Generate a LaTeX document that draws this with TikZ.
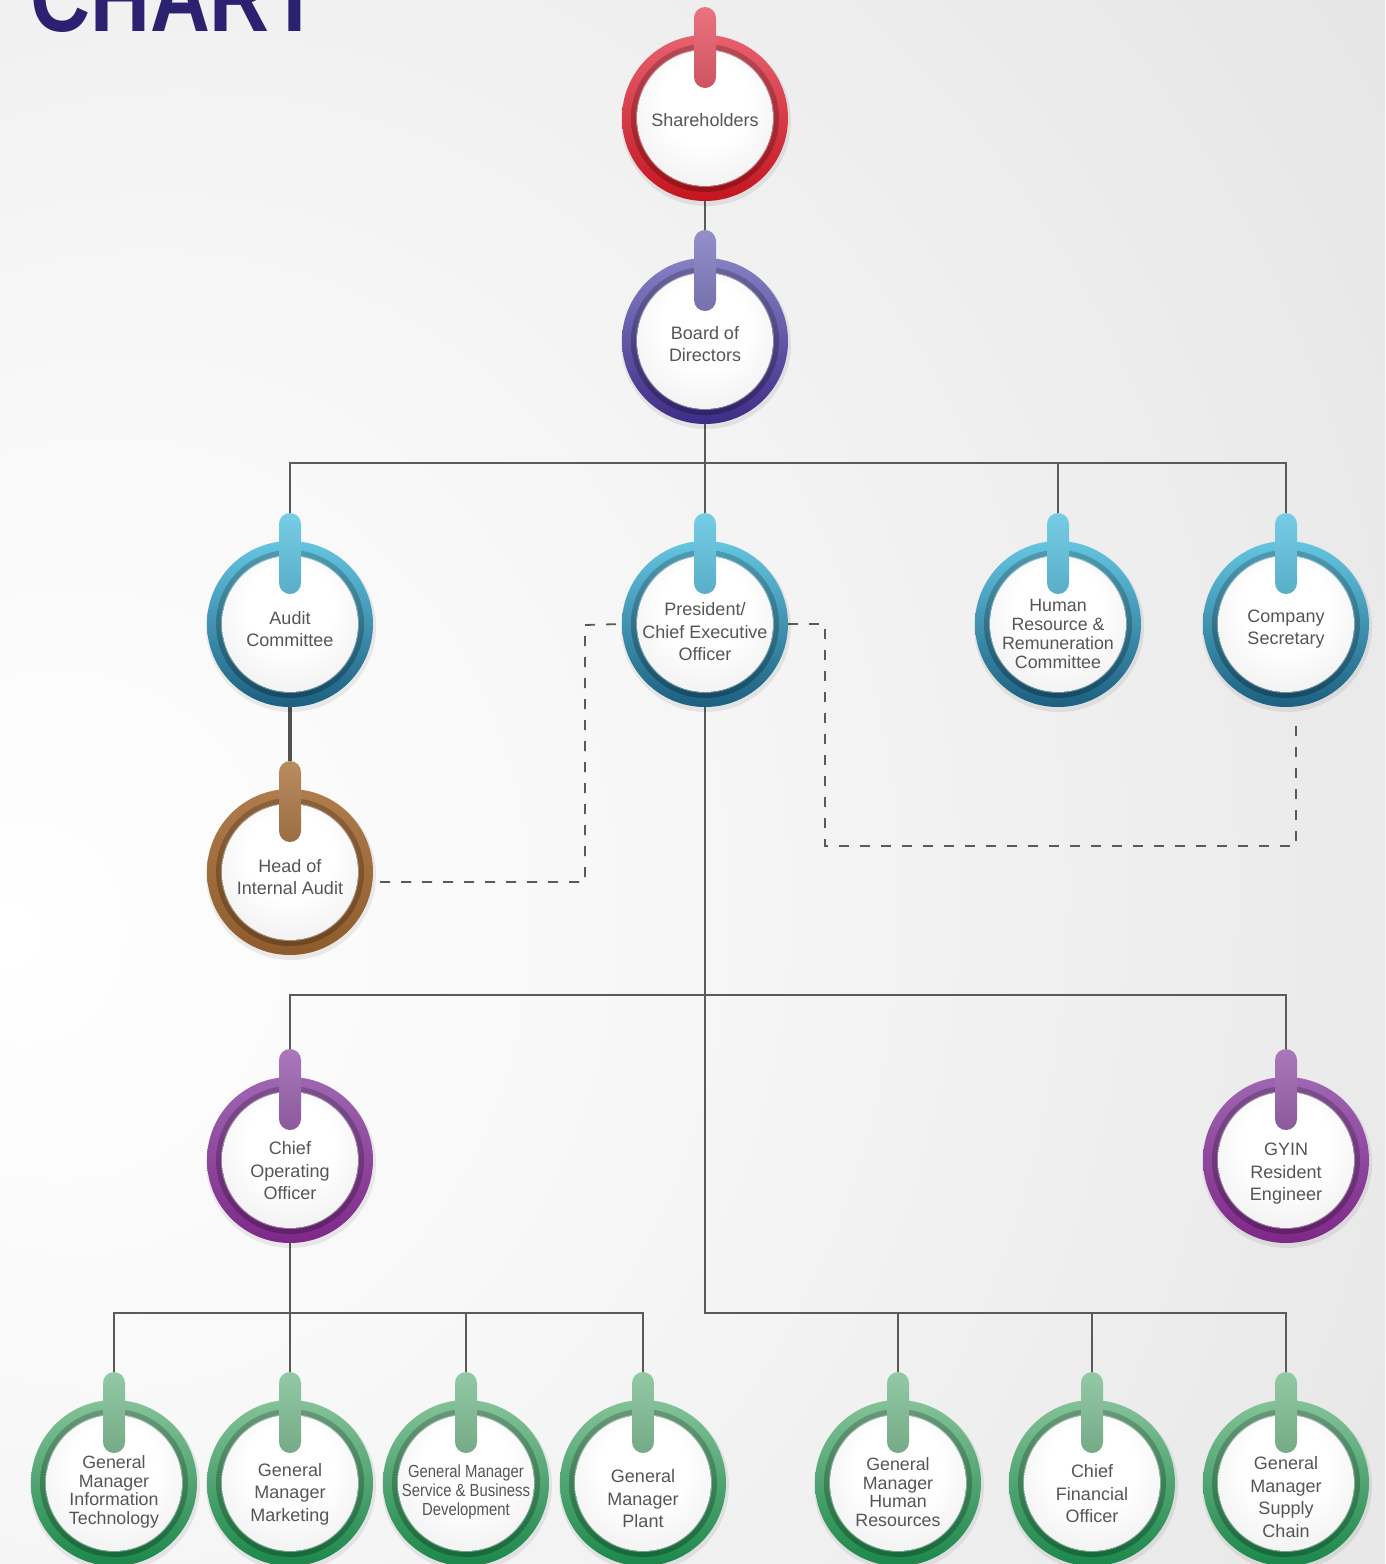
\documentclass[tikz,border=0pt]{standalone}
\usepackage{fontspec}
\setmainfont{Liberation Sans}
\usetikzlibrary{calc}
\pgfdeclarelayer{bg}
\pgfsetlayers{bg,main}
\definecolor{txtgray}{HTML}{555555}
\definecolor{linegray}{HTML}{5A5A5A}
\definecolor{titleblue}{HTML}{2B2170}
\definecolor{redT}{HTML}{E8606E}\definecolor{redB}{HTML}{C4151F}
\definecolor{indT}{HTML}{8580C4}\definecolor{indB}{HTML}{3E2C86}
\definecolor{tealT}{HTML}{64C6E2}\definecolor{tealB}{HTML}{1D5F80}
\definecolor{brnT}{HTML}{B07C4C}\definecolor{brnB}{HTML}{8E5C2C}
\definecolor{purT}{HTML}{9E66B2}\definecolor{purB}{HTML}{7E2888}
\definecolor{grnT}{HTML}{84C298}\definecolor{grnB}{HTML}{1B874A}
\pgfdeclareradialshading{whiteball}{\pgfpoint{0bp}{8bp}}{color(0bp)=(white); color(16bp)=(white); color(38bp)=(black!8); color(50bp)=(black!22); color(60bp)=(black!26)}
\pgfdeclareradialshading{bgshade}{\pgfpoint{-25bp}{-5bp}}{color(0bp)=(white); color(18bp)=(black!3); color(55bp)=(black!12); color(96bp)=(black!19)}
\tikzset{
  txt/.style={text=txtgray, align=center, inner sep=0pt, font=\fontsize{18}{22.5}\selectfont},
  tight/.style={font=\fontsize{17.8}{18.7}\selectfont},
  conn/.style={draw=linegray, line width=1.6pt},
  dsh/.style={draw=linegray, line width=1.8pt, dash pattern=on 10pt off 11pt},
}
% #1 name #2 x #3 y #4 ring top colour #5 ring bottom colour #6 text dy #7 text style #8 text
\newcommand\orgunit[8]{%
  \fill[black,opacity=0.07] (#2+1,#3+3) circle (85);
  \shade[top color=#4, bottom color=#5] (#2,#3) circle (83);
  \shade[top color=#4!78!black, bottom color=#5!78!black] (#2,#3) circle (74);
  \draw[white, opacity=0.35, line width=0.8pt] (#2,#3) circle (68.6);
  \shade[shading=whiteball] (#2,#3) circle (68);
  \node[circle, minimum size=166pt, inner sep=0pt] (#1) at (#2,#3) {};
  \shade[top color=#4!88!white, bottom color=#4!88!black, rounded corners=11pt]
    (#2-11,#3-111) rectangle (#2+11,#3-30);
  \coordinate (#1-tab) at (#2,#3-111);
  \node[txt,#7] (#1-t) at (#2,#3+#6) {#8};
}
\begin{document}
\begin{tikzpicture}[x=1pt,y=-1pt]
\useasboundingbox (0,0) rectangle (1385,1564);
\clip (0,0) rectangle (1385,1564);
\begin{pgfonlayer}{bg}
  \shade[shading=bgshade] (0,0) rectangle (1385,1564);
\end{pgfonlayer}
\node[anchor=base west, inner sep=0pt, text=titleblue, xscale=0.83, transform shape,
      font=\fontsize{100}{100}\selectfont\bfseries] (title) at (30,31) {CHART};

\orgunit{sh}{705}{118}{redT}{redB}{2}{}{Shareholders}
\orgunit{bd}{705}{341}{indT}{indB}{3}{}{Board of\\Directors}
\orgunit{ac}{290}{624}{tealT}{tealB}{5}{}{Audit\\Committee}
\orgunit{ceo}{705}{624}{tealT}{tealB}{8}{}{President/\\Chief Executive\\Officer}
\orgunit{hr}{1058}{624}{tealT}{tealB}{10}{tight}{Human\\Resource \&\\Remuneration\\Committee}
\orgunit{cs}{1286}{624}{tealT}{tealB}{5}{}{Company\\Secretary}
\orgunit{hia}{290}{872}{brnT}{brnB}{5}{}{Head of\\Internal Audit}
\orgunit{coo}{290}{1160}{purT}{purB}{11}{}{Chief\\Operating\\Officer}
\orgunit{gy}{1286}{1160}{purT}{purB}{14}{}{GYIN\\Resident\\Engineer}
\orgunit{it}{114}{1483}{grnT}{grnB}{9}{tight}{General\\Manager\\Information\\Technology}
\orgunit{mk}{290}{1483}{grnT}{grnB}{11}{}{General\\Manager\\Marketing}
\orgunit{sv}{466}{1483}{grnT}{grnB}{9}{font=\fontsize{17.5}{18.6}\selectfont, xscale=0.85, transform shape}{General Manager\\Service \& Business\\Development}
\orgunit{pl}{643}{1483}{grnT}{grnB}{16}{}{General\\Manager\\Plant}
\orgunit{ghr}{898}{1483}{grnT}{grnB}{9}{tight}{General\\Manager\\Human\\Resources}
\orgunit{cfo}{1092}{1483}{grnT}{grnB}{11}{}{Chief\\Financial\\Officer}
\orgunit{sc}{1286}{1483}{grnT}{grnB}{14}{}{General\\Manager\\Supply\\Chain}

\coordinate (b1) at (705,463);
\coordinate (b2) at (705,995);
\coordinate (b3) at (705,1313);
\coordinate (b4) at (290,1313);
\coordinate (d1) at (380,882);
\coordinate (d2) at (585,625);
\coordinate (d3) at (825,846);
\coordinate (d4) at (1296,718);

\begin{pgfonlayer}{bg}
  \draw[conn] (sh.south) -- (bd-tab);
  \draw[conn] (bd.south) -- (b1);
  \draw[conn] (ac-tab) |- (b1) -| (cs-tab);
  \draw[conn] (b1) -- (ceo-tab);
  \draw[conn] (hr-tab) -- (hr-tab |- b1);
  \draw[draw=linegray!90!black, line width=3.6pt] (ac.south) -- (hia-tab);
  \draw[conn] (ceo.south) -- (b3) -| (sc-tab);
  \draw[conn] (coo-tab) |- (b2) -| (gy-tab);
  \draw[conn] (ghr-tab) -- (ghr-tab |- b3);
  \draw[conn] (cfo-tab) -- (cfo-tab |- b3);
  \draw[conn] (coo.south) -- (b4);
  \draw[conn] (it-tab) |- (b4) -| (pl-tab);
  \draw[conn] (mk-tab) -- (mk-tab |- b4);
  \draw[conn] (sv-tab) -- (sv-tab |- b4);
  \draw[dsh] (d1) -| (d2) -- (ceo.west);
  \draw[dsh] (ceo.east) -| (d3) -| (d4);
\end{pgfonlayer}
\end{tikzpicture}
\end{document}
